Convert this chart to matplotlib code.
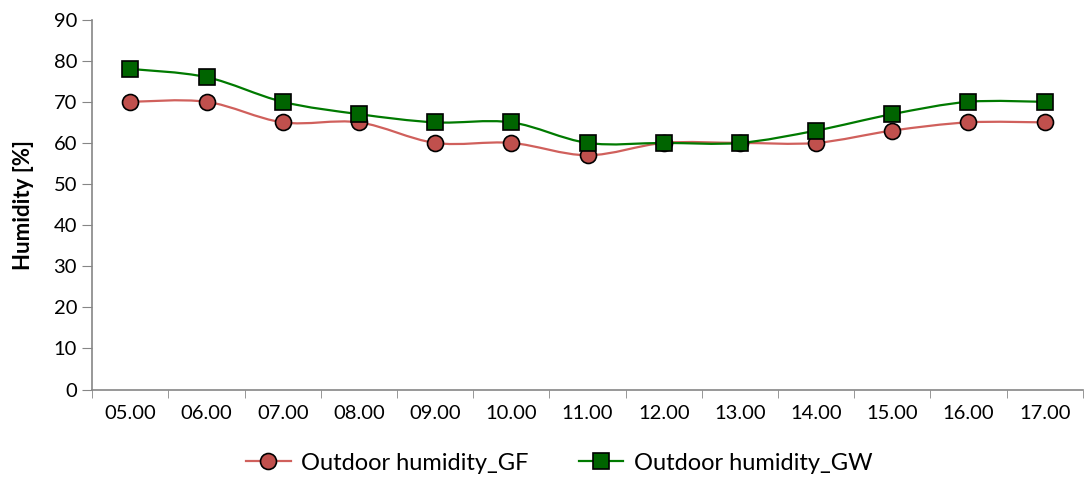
import matplotlib
matplotlib.use("Agg")
import matplotlib.pyplot as plt
from matplotlib.path import Path
import matplotlib.patches as mpatches
from matplotlib.lines import Line2D

plt.rcParams['font.family'] = ['Lato', 'DejaVu Sans']

hours = ["05.00", "06.00", "07.00", "08.00", "09.00", "10.00", "11.00",
         "12.00", "13.00", "14.00", "15.00", "16.00", "17.00"]
humidity_gf = [70, 70, 65, 65, 60, 60, 57, 60, 60, 60, 63, 65, 65]
humidity_gw = [78, 76, 70, 67, 65, 65, 60, 60, 60, 63, 67, 70, 70]

gf_line, gf_face = '#d0605c', '#c0504d'
gw_line, gw_face = '#007a00', '#006400'


def smooth_path(xs, ys):
    # Excel style smoothed line: Catmull-Rom converted to cubic Bezier
    n = len(xs)
    verts = [(xs[0], ys[0])]
    codes = [Path.MOVETO]
    for i in range(n - 1):
        x0, y0 = (xs[i - 1], ys[i - 1]) if i > 0 else (xs[i], ys[i])
        x1, y1 = xs[i], ys[i]
        x2, y2 = xs[i + 1], ys[i + 1]
        x3, y3 = (xs[i + 2], ys[i + 2]) if i + 2 < n else (x2, y2)
        c1 = (x1 + (x2 - x0) / 6, y1 + (y2 - y0) / 6)
        c2 = (x2 - (x3 - x1) / 6, y2 - (y3 - y1) / 6)
        verts += [c1, c2, (x2, y2)]
        codes += [Path.CURVE4] * 3
    return Path(verts, codes)


fig, ax = plt.subplots(figsize=(10.86, 4.9), dpi=100)
fig.subplots_adjust(left=0.085, right=0.997, top=0.96, bottom=0.205)

x = list(range(len(hours)))
ax.add_patch(mpatches.PathPatch(smooth_path(x, humidity_gf), fill=False,
                                edgecolor=gf_line, lw=1.6, zorder=2))
ax.add_patch(mpatches.PathPatch(smooth_path(x, humidity_gw), fill=False,
                                edgecolor=gw_line, lw=1.6, zorder=2))
ax.plot(x, humidity_gf, ls='none', marker='o', ms=11.5, mfc=gf_face,
        mec='black', mew=1.2, zorder=3)
ax.plot(x, humidity_gw, ls='none', marker='s', ms=11, mfc=gw_face,
        mec='black', mew=1.2, zorder=4)

ax.set_xlim(-0.5, len(hours) - 0.5)
ax.set_ylim(0, 90)
ax.set_yticks(range(0, 91, 10))
ax.set_xticks(x)
ax.set_xticklabels(hours, fontsize=14.5)
ax.set_xticks([i - 0.5 for i in range(len(hours) + 1)], minor=True)
ax.tick_params(axis='x', which='major', length=0, pad=11)
ax.tick_params(axis='x', which='minor', length=6, color='#868686')
ax.tick_params(axis='y', labelsize=14.5, length=7, color='#868686', pad=4)
ax.set_ylabel("Humidity [%]", fontsize=16, fontweight='bold', labelpad=14)

for s in ['top', 'right']:
    ax.spines[s].set_visible(False)
for s in ['left', 'bottom']:
    ax.spines[s].set_color('#868686')
    ax.spines[s].set_linewidth(1.2)

handles = [
    Line2D([], [], color=gf_line, lw=1.6, marker='o', ms=11.5, mfc=gf_face,
           mec='black', mew=1.2),
    Line2D([], [], color=gw_line, lw=1.6, marker='s', ms=11, mfc=gw_face,
           mec='black', mew=1.2),
]
fig.legend(handles, ["Outdoor humidity_GF", "Outdoor humidity_GW"],
           loc='center', bbox_to_anchor=(0.515, 0.055), ncol=2, frameon=False,
           fontsize=17, handlelength=1.9, columnspacing=2.1, handletextpad=0.45)

fig.savefig("out.png", dpi=100)
